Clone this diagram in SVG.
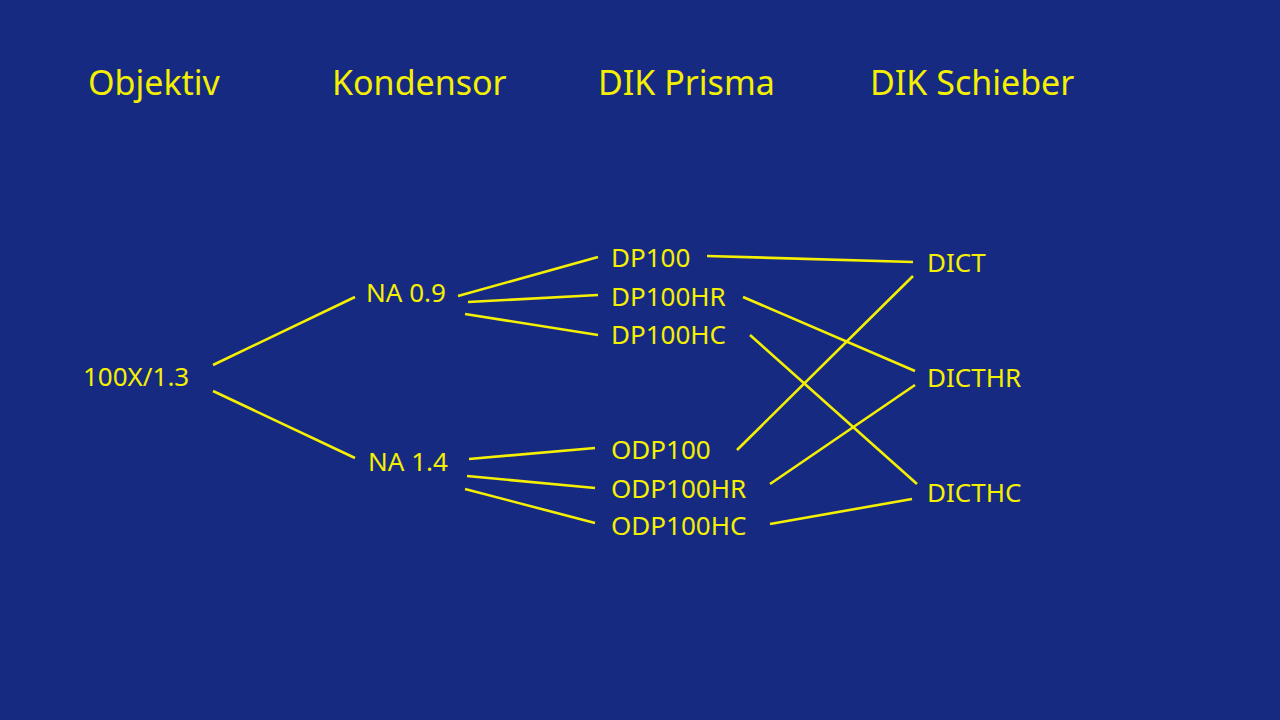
<svg xmlns="http://www.w3.org/2000/svg" width="1280" height="720" viewBox="0 0 1280 720">
<style>
text{font-family:"Noto Sans","Open Sans",sans-serif;fill:#f5f000}
.h{font-size:34px}
.n{font-size:26px}
#connectors line{stroke:#f5f000;stroke-width:2.6}
</style>
<rect width="1280" height="720" fill="#172a82"/>
<g id="headers">
<text class="h" x="88" y="95">Objektiv</text>
<text class="h" x="332" y="95">Kondensor</text>
<text class="h" x="598" y="95">DIK Prisma</text>
<text class="h" x="870" y="95">DIK Schieber</text>
</g>
<g id="connectors">
<line x1="213" y1="365" x2="355" y2="297"/>
<line x1="213" y1="391" x2="355" y2="458"/>
<line x1="458" y1="296" x2="598" y2="257"/>
<line x1="468" y1="302" x2="598" y2="295"/>
<line x1="465" y1="314" x2="598" y2="335"/>
<line x1="469" y1="459" x2="595" y2="448"/>
<line x1="467" y1="476" x2="595" y2="488"/>
<line x1="465" y1="489" x2="595" y2="523"/>
<line x1="707" y1="256" x2="913" y2="262"/>
<line x1="743" y1="297" x2="915" y2="371"/>
<line x1="750" y1="335" x2="917" y2="484"/>
<line x1="737" y1="450" x2="913" y2="276"/>
<line x1="770" y1="484" x2="915" y2="385"/>
<line x1="770" y1="524" x2="912" y2="499"/>
</g>
<g id="n100X"><text class="n" x="83" y="386">100X/1.3</text></g>
<g id="na09"><text class="n" x="366" y="302">NA 0.9</text></g>
<g id="na14"><text class="n" x="368" y="471">NA 1.4</text></g>
<g id="dp100"><text class="n" x="611" y="267">DP100</text></g>
<g id="dp100hr"><text class="n" x="611" y="306">DP100HR</text></g>
<g id="dp100hc"><text class="n" x="611" y="344">DP100HC</text></g>
<g id="odp100"><text class="n" x="611" y="459">ODP100</text></g>
<g id="odp100hr"><text class="n" x="611" y="498">ODP100HR</text></g>
<g id="odp100hc"><text class="n" x="611" y="535">ODP100HC</text></g>
<g id="dict"><text class="n" x="927" y="272">DICT</text></g>
<g id="dicthr"><text class="n" x="927" y="387">DICTHR</text></g>
<g id="dicthc"><text class="n" x="927" y="502">DICTHC</text></g>
</svg>
